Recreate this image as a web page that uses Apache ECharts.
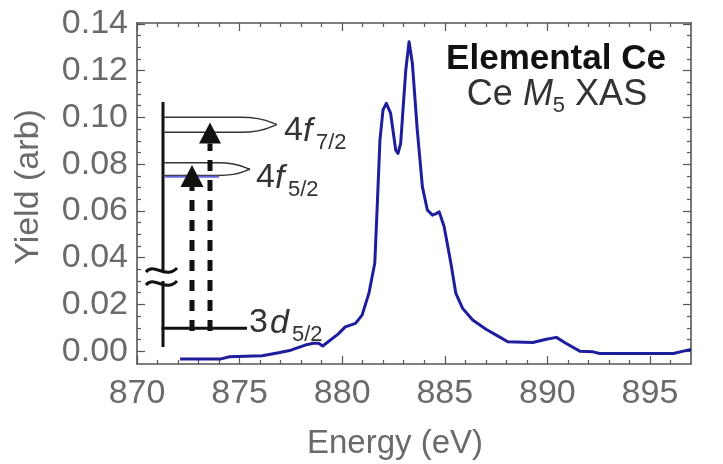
<!DOCTYPE html>
<html>
<head>
<meta charset="utf-8">
<script src="https://cdn.jsdelivr.net/npm/echarts@6/dist/echarts.min.js"></script>
<style>
  html, body { margin: 0; padding: 0; background: #fff; }
  #chart { width: 723px; height: 464px; }
</style>
</head>
<body>
<div id="chart"></div>
<script>
// Ce M5 absorption edge, total yield vs photon energy
const energy = [
  872.1, 874.05, 874.5, 876.1, 876.9, 877.5, 878.2, 878.6, 878.85, 879.05,
  879.8, 880.15, 880.65, 880.97, 881.3, 881.59, 881.72, 881.84, 881.99, 882.15,
  882.36, 882.61, 882.72, 882.85, 883.1, 883.26, 883.42, 883.66, 883.91, 884.15,
  884.4, 884.55, 884.73, 884.97, 885.3, 885.54, 885.87, 886.36, 887.01, 887.66,
  888.07, 889.29, 889.95, 890.44, 890.92, 891.58, 892.23, 892.55, 896.14, 896.63,
  897.0
];
const yieldValues = [
  -0.0034, -0.0034, -0.0024, -0.002, -0.0007, 0.0004, 0.0026, 0.0034, 0.0034, 0.0022,
  0.0073, 0.0104, 0.0119, 0.0154, 0.0247, 0.0377, 0.0646, 0.0903, 0.1032, 0.106,
  0.1018, 0.086, 0.0846, 0.0889, 0.1203, 0.1324, 0.1232, 0.0946, 0.0703, 0.0604,
  0.0582, 0.0587, 0.0596, 0.0532, 0.0375, 0.0247, 0.0183, 0.0133, 0.0094, 0.0061,
  0.004, 0.0037, 0.0051, 0.0059, 0.0033, 0.0, -0.0003, -0.001, -0.001, 0.0,
  0.0007
];
const xTickLabels = [870, 875, 880, 885, 890, 895];
const yTickLabels = [0, 0.02, 0.04, 0.06, 0.08, 0.10, 0.12, 0.14];

const X_MIN = 870, X_MAX = 897;
const Y_MIN = -0.0055, Y_MAX = 0.1404;

// minor tick positions: every 1 eV and every 0.005
const xMinor = [];
for (let e = X_MIN + 1; e < X_MAX; e++) if (e % 5 !== 0) xMinor.push(e);
const yMinor = [];
for (let k = 1; k < 28; k++) if (k % 4 !== 0) yMinor.push(Math.round(k * 5) / 1000);

const FONT = '"Liberation Sans", Arial, Helvetica, sans-serif';
const FRAME = '#555';
const LABEL = '#6a6a6a';
const INK = '#111';

function frameAxis(position, min, max, ticks, tickLen, labels, lineShown) {
  const ax = {
    type: 'value', position, min, max,
    axisLine: { show: lineShown, onZero: false, lineStyle: { color: FRAME, width: 1.6 } },
    axisTick: { show: true, inside: true, length: tickLen, customValues: ticks,
                lineStyle: { color: FRAME, width: 1.2 } },
    axisLabel: { show: false },
    splitLine: { show: false }
  };
  if (labels) ax.axisLabel = labels;
  return ax;
}

const xLabels = {
  show: true, customValues: xTickLabels, fontSize: 34, fontFamily: FONT,
  color: LABEL, margin: 13, formatter: v => String(v)
};
const yLabels = {
  show: true, customValues: yTickLabels, fontSize: 34, fontFamily: FONT,
  color: LABEL, margin: 9, formatter: v => v.toFixed(2)
};

// text built from runs of normal / italic / subscript glyphs;
// a run with its own "at" starts at that x, otherwise it follows the previous one
const measureCtx = document.createElement('canvas').getContext('2d');
function fontStr(p) {
  return (p.italic ? 'italic ' : '') + (p.bold ? 'bold ' : '') + p.size + 'px ' + FONT;
}
function textRuns(left, baseline, parts, color, center) {
  const widths = parts.map(p => { measureCtx.font = fontStr(p); return measureCtx.measureText(p.t).width; });
  const total = widths.reduce((a, b) => a + b, 0);
  let x = center ? left - total / 2 : left;
  return parts.map((p, i) => {
    if (p.at !== undefined) x = p.at;
    const el = {
      type: 'text', z: 100, silent: true,
      x: x, y: baseline + (p.shift || 0) - 0.35 * p.size,
      style: { text: p.t, font: fontStr(p), fill: color, align: 'left', verticalAlign: 'middle' }
    };
    x += widths[i];
    return el;
  });
}

function seg(x1, y1, x2, y2, w, color, dash) {
  return { type: 'line', z: 100, silent: true, shape: { x1, y1, x2, y2 },
           style: { stroke: color || INK, lineWidth: w, lineDash: dash || null, lineCap: 'butt' } };
}
function curve(x1, y1, cpx1, cpy1, cpx2, cpy2, x2, y2, w, color) {
  return { type: 'bezierCurve', z: 100, silent: true,
           shape: { x1, y1, x2, y2, cpx1, cpy1, cpx2, cpy2 },
           style: { stroke: color || INK, lineWidth: w, fill: null } };
}
function arrowHead(x, tipY, baseY, half) {
  return { type: 'polygon', z: 101, silent: true,
           shape: { points: [[x, tipY], [x - half, baseY], [x + half, baseY]] },
           style: { fill: INK } };
}
function lobe(x0, yTop, yBot, xFlat, xTip, yTip) {
  const c = '#333';
  return [
    seg(x0, yTop, xFlat, yTop, 1.5, c),
    curve(xFlat, yTop, xFlat + (xTip - xFlat) * 0.7, yTop, xTip - 6, yTip - 1.5, xTip, yTip, 1.5, c),
    curve(xTip, yTip, xTip - 6, yTip + 1.5, xFlat + (xTip - xFlat) * 0.7, yBot, xFlat, yBot, 1.5, c),
    seg(xFlat, yBot, x0, yBot, 1.5, c)
  ];
}

// energy-level schematic: 3d5/2 core level, 4f5/2 and 4f7/2 final states
const axisX = 163;
const MAIN = 34, SUB = 22;
const levelDiagram = [].concat(
  seg(axisX, 102, axisX, 270, 3),
  seg(axisX, 281, axisX, 347, 3),
  curve(146, 272, 154, 262, 166, 280, 177, 268, 3),
  curve(146, 285, 154, 275, 166, 293, 177, 281, 3),
  seg(axisX - 1.5, 328.3, 247, 328.3, 3),
  lobe(axisX, 117.3, 132.3, 240, 277, 124.5),
  lobe(axisX, 162.7, 175.5, 218, 250, 169.3),
  seg(axisX + 1.5, 176.8, 219, 176.8, 2, '#6464d6'),
  seg(192, 331, 192, 187, 5, INK, [11, 9]),
  seg(210, 331, 210, 143.5, 5, INK, [11, 9]),
  arrowHead(192, 165, 187, 11.5),
  arrowHead(210, 122.5, 143.5, 11),
  textRuns(284, 143, [{ t: '4', size: MAIN }, { t: 'f', size: MAIN, italic: true, at: 303 },
                      { t: '7/2', size: SUB, shift: 8, at: 316 }], '#333'),
  textRuns(256, 190, [{ t: '4', size: MAIN }, { t: 'f', size: MAIN, italic: true, at: 275 },
                      { t: '5/2', size: SUB, shift: 8, at: 288 }], '#333'),
  textRuns(249, 335, [{ t: '3', size: MAIN }, { t: 'd', size: MAIN, italic: true, at: 270 },
                      { t: '5/2', size: SUB, shift: 8, at: 292 }], '#333')
);

const titles = [].concat(
  textRuns(556, 72, [{ t: 'Elemental Ce', size: 35, bold: true }], INK, true),
  textRuns(557, 108, [{ t: 'Ce ', size: 36 }, { t: 'M', size: 36, italic: true },
                      { t: '5', size: 22, shift: 6 }, { t: ' XAS', size: 36 }], '#333', true),
  [{
    type: 'text', silent: true, x: 395, y: 444,
    style: { text: 'Energy (eV)', font: '33px ' + FONT, fill: LABEL, align: 'center', verticalAlign: 'middle' }
  }, {
    type: 'text', silent: true, x: 29, y: 187, rotation: Math.PI / 2,
    style: { text: 'Yield (arb)', font: '34px ' + FONT, fill: LABEL, align: 'center', verticalAlign: 'middle' }
  }]
);

const chart = echarts.init(document.getElementById('chart'), null, { renderer: 'canvas' });
chart.setOption({
  animation: false,
  backgroundColor: '#fff',
  grid: { left: 137, top: 23, right: 32, bottom: 100, containLabel: false },
  xAxis: [
    frameAxis('bottom', X_MIN, X_MAX, xTickLabels, 8, xLabels, true),
    frameAxis('bottom', X_MIN, X_MAX, xMinor, 4, null, false),
    frameAxis('top', X_MIN, X_MAX, xTickLabels, 8, null, true),
    frameAxis('top', X_MIN, X_MAX, xMinor, 4, null, false)
  ],
  yAxis: [
    frameAxis('left', Y_MIN, Y_MAX, yTickLabels, 8, yLabels, true),
    frameAxis('left', Y_MIN, Y_MAX, yMinor, 4, null, false),
    frameAxis('right', Y_MIN, Y_MAX, yTickLabels, 8, null, true),
    frameAxis('right', Y_MIN, Y_MAX, yMinor, 4, null, false)
  ],
  series: [{
    name: 'Ce M5 XAS',
    type: 'line',
    xAxisIndex: 0, yAxisIndex: 0,
    data: energy.map((e, i) => [e, yieldValues[i]]),
    showSymbol: false, symbol: 'none',
    lineStyle: { color: '#1d1d9e', width: 3, join: 'round' },
    clip: true, silent: true
  }],
  graphic: levelDiagram.concat(titles)
});
</script>
</body>
</html>
